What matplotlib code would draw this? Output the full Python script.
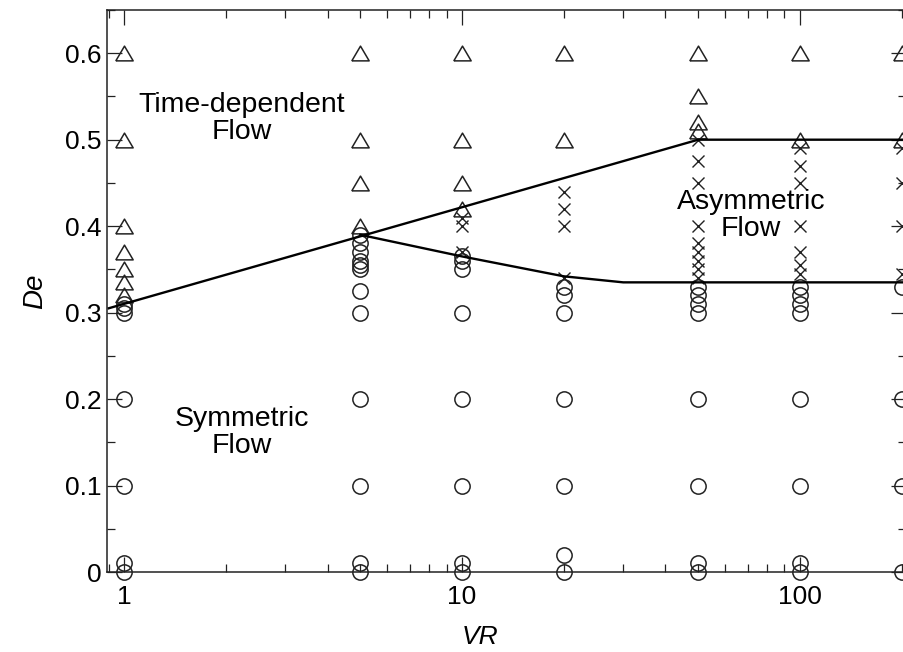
import numpy as np
import matplotlib
matplotlib.use("Agg")
import matplotlib.pyplot as plt
import matplotlib.ticker as mticker

# Data
vr_cols = [1, 5, 10, 20, 50, 100, 200]

# Time-dependent flow (triangles)
tri_de = [
    [0.6, 0.5, 0.40, 0.37, 0.35, 0.335, 0.32],
    [0.6, 0.5, 0.45, 0.40],
    [0.6, 0.5, 0.45, 0.42],
    [0.6, 0.5],
    [0.6, 0.55, 0.52, 0.51],
    [0.6, 0.5],
    [0.6, 0.5],
]
# Asymmetric flow (crosses)
cross_de = [
    [],
    [],
    [0.41, 0.40, 0.37],
    [0.44, 0.42, 0.40, 0.34],
    [0.50, 0.475, 0.45, 0.40, 0.38, 0.37, 0.36, 0.35, 0.34],
    [0.49, 0.47, 0.45, 0.40, 0.37, 0.355, 0.345],
    [0.49, 0.45, 0.40, 0.345],
]
# Symmetric flow (circles)
circ_de = [
    [0, 0.01, 0.1, 0.2, 0.30, 0.305, 0.31],
    [0, 0.01, 0.1, 0.2, 0.30, 0.325, 0.35, 0.355, 0.36, 0.37, 0.38, 0.39],
    [0, 0.01, 0.1, 0.2, 0.30, 0.35, 0.36, 0.365],
    [0, 0.02, 0.1, 0.2, 0.30, 0.32, 0.33],
    [0, 0.01, 0.1, 0.2, 0.30, 0.31, 0.32, 0.33],
    [0, 0.01, 0.1, 0.2, 0.30, 0.31, 0.32, 0.33],
    [0, 0.1, 0.2, 0.33],
]

# Boundary lines
upper_vr = [0.9, 50, 250]
upper_de = [0.305, 0.50, 0.50]
lower_vr = [5, 10, 20, 30, 250]
lower_de = [0.39, 0.365, 0.342, 0.335, 0.335]

yticks = [0, 0.1, 0.2, 0.3, 0.4, 0.5, 0.6]
ytick_labels = ["0", "0.1", "0.2", "0.3", "0.4", "0.5", "0.6"]
xticks = [1, 10, 100]
xtick_labels = ["1", "10", "100"]

#_________________________________________________________________________________________
plt.rcParams['font.family'] = ['Liberation Sans', 'DejaVu Sans']
fig = plt.figure(figsize=(9.04, 6.52), dpi=100)
ax = fig.add_axes([107/904, 80/652, 799/904, 562/652])

tri_marker = [(-1, -0.85), (1, -0.85), (0, 0.85), (-1, -0.85)]
ink = '#222222'


def flat(cols):
    xs, ys = [], []
    for vr, vals in zip(vr_cols, cols):
        xs += [vr]*len(vals)
        ys += vals
    return xs, ys


x, y = flat(circ_de)
ax.plot(x, y, ls='', marker='o', ms=11, mfc='none', mec=ink, mew=1.1, clip_on=False)
x, y = flat(tri_de)
ax.plot(x, y, ls='', marker=tri_marker, ms=12.5, mfc='none', mec=ink, mew=1.1, clip_on=False)
x, y = flat(cross_de)
ax.plot(x, y, ls='', marker='x', ms=8.5, mec=ink, mew=1.0, clip_on=False)

ax.plot(upper_vr, upper_de, color='black', lw=1.7)
ax.plot(lower_vr, lower_de, color='black', lw=1.7)

ax.set_xscale('log')
ax.set_xlim(0.89, 206)
ax.set_ylim(0, 0.65)

ax.set_xticks(xticks)
ax.set_xticklabels(xtick_labels)
ax.xaxis.set_minor_locator(mticker.LogLocator(base=10, subs=np.arange(2, 10)))
ax.xaxis.set_minor_formatter(mticker.NullFormatter())
ax.set_yticks(yticks)
ax.set_yticklabels(ytick_labels)
ax.yaxis.set_minor_locator(mticker.MultipleLocator(0.05))

ax.tick_params(which='major', direction='in', length=11, width=0.9, top=True, right=True,
               labelsize=19, color=ink)
ax.tick_params(which='minor', direction='in', length=6, width=0.9, top=True, right=True, color=ink)
ax.tick_params(axis='x', which='major', pad=9)
ax.tick_params(axis='y', which='major', pad=4)
for sp in ax.spines.values():
    sp.set_linewidth(1.1)
    sp.set_color(ink)

ax.set_ylabel('De', fontsize=20, style='italic')
ax.yaxis.set_label_coords(-0.074, 0.5)
ax.set_xlabel('VR', fontsize=19, style='italic')
ax.xaxis.set_label_coords(0.467, -0.094)

ax.text(2.23, 0.524, 'Time-dependent\nFlow', fontsize=20.5, ha='center', va='center',
        linespacing=1.05)
ax.text(2.23, 0.161, 'Symmetric\nFlow', fontsize=20.5, ha='center', va='center',
        linespacing=1.05)
ax.text(71.6, 0.412, 'Asymmetric\nFlow', fontsize=20.5, ha='center', va='center',
        linespacing=1.05, zorder=5)

fig.savefig('out.png', dpi=100)
